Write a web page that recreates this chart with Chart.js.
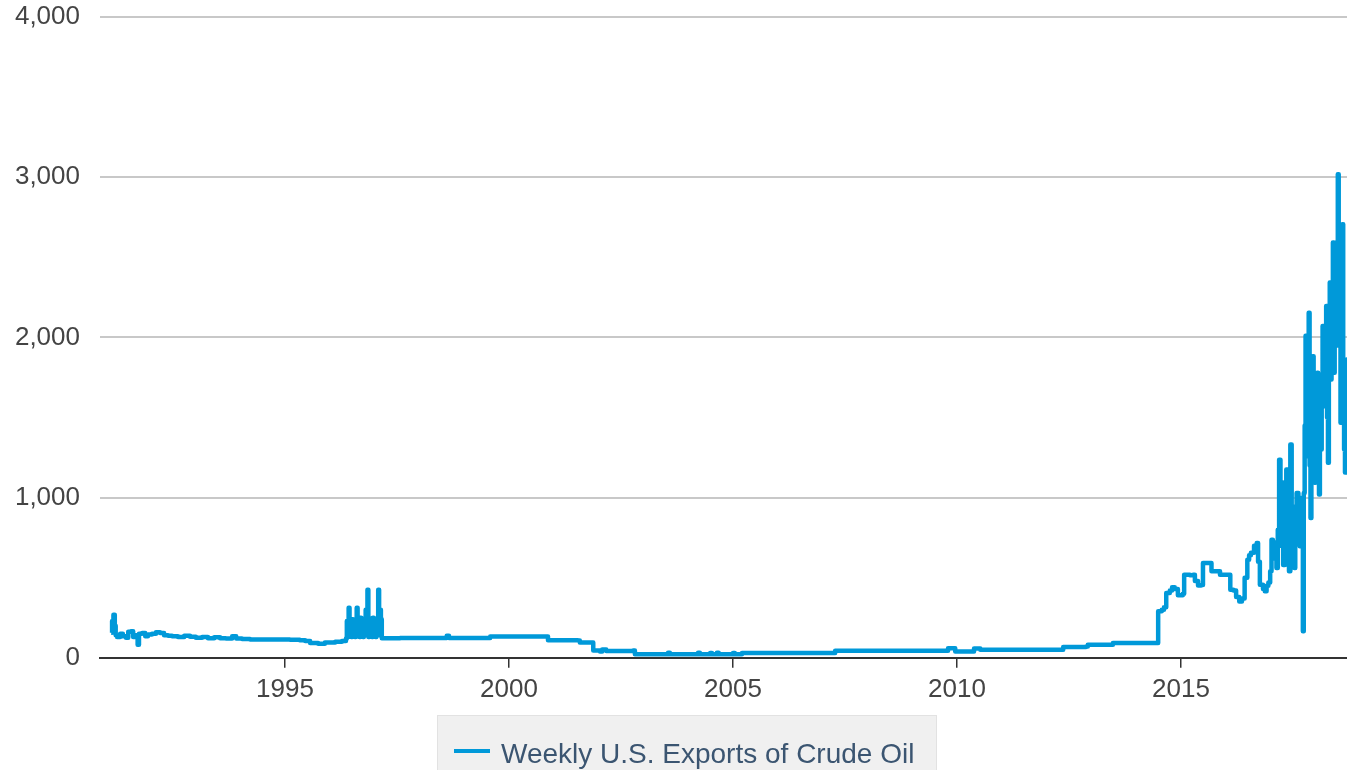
<!DOCTYPE html>
<html>
<head>
<meta charset="utf-8">
<script src="https://cdn.jsdelivr.net/npm/chart.js@4/dist/chart.umd.min.js"></script>
<style>
  html, body { margin: 0; padding: 0; background: #fff; overflow: hidden; }
  #wrap { width: 1347px; height: 800px; }
</style>
</head>
<body>
<div id="wrap"><canvas id="exportsChart" width="1347" height="800"></canvas></div>
<script>
// week position (decimal year) and weekly exports, thousand barrels per day
var weekYears = [
    1991.12, 1991.14, 1991.17, 1991.20, 1991.22, 1991.25, 1991.32, 1991.38, 1991.45, 1991.50,
    1991.56, 1991.61, 1991.65, 1991.71, 1991.74, 1991.81, 1991.88, 1991.94, 1992.03, 1992.12,
    1992.21, 1992.30, 1992.39, 1992.48, 1992.61, 1992.75, 1992.88, 1993.01, 1993.15, 1993.28,
    1993.42, 1993.55, 1993.68, 1993.82, 1993.91, 1994.04, 1994.22, 1994.44, 1994.78, 1995.11,
    1995.33, 1995.45, 1995.56, 1995.74, 1995.89, 1996.12, 1996.27,
    1996.36, 1996.38, 1996.40, 1996.42, 1996.44, 1996.46, 1996.48, 1996.50, 1996.52, 1996.54,
    1996.56, 1996.58, 1996.60, 1996.62, 1996.64, 1996.66, 1996.68, 1996.70, 1996.72, 1996.74,
    1996.76, 1996.78, 1996.80, 1996.82, 1996.84, 1996.86, 1996.88, 1996.90, 1996.92, 1996.94,
    1996.96, 1996.98, 1997.00, 1997.02, 1997.04, 1997.06, 1997.08, 1997.10, 1997.12, 1997.14,
    1997.16,
    1997.57, 1998.24, 1998.58, 1998.61, 1998.66, 1999.51, 1999.58,
    2000.80, 2000.87, 2001.54, 2001.58, 2001.83, 2001.88, 2002.03, 2002.08, 2002.17, 2002.77,
    2002.81, 2003.53, 2003.55, 2003.59, 2004.20, 2004.22, 2004.26, 2004.47, 2004.49, 2004.53,
    2004.62, 2004.64, 2004.68, 2004.98, 2005.00, 2005.04, 2005.16, 2005.20, 2007.23, 2007.28,
    2009.75, 2009.80, 2009.91, 2009.96, 2010.33, 2010.38, 2010.47, 2010.52, 2012.32, 2012.37,
    2012.88, 2012.92, 2013.44, 2013.48, 2014.46, 2014.49, 2014.57, 2014.62, 2014.67, 2014.75,
    2014.80, 2014.86, 2014.93, 2014.98, 2015.04, 2015.07, 2015.20, 2015.27, 2015.31, 2015.38,
    2015.45, 2015.49, 2015.64, 2015.68, 2015.83, 2015.87, 2016.06, 2016.10, 2016.17, 2016.23,
    2016.30, 2016.36, 2016.42, 2016.48, 2016.52, 2016.56, 2016.63, 2016.69, 2016.72, 2016.76,
    2016.83, 2016.87, 2016.91, 2016.95, 2016.99, 2017.02, 2017.05, 2017.10, 2017.13, 2017.16,
    2017.19, 2017.22, 2017.25, 2017.28, 2017.32, 2017.35, 2017.38, 2017.41, 2017.44, 2017.47,
    2017.50, 2017.53, 2017.55, 2017.58, 2017.62, 2017.65, 2017.68,
    2017.72, 2017.74, 2017.76, 2017.78, 2017.80, 2017.82, 2017.85, 2017.87, 2017.89, 2017.91,
    2017.94, 2017.96, 2017.98, 2018.00, 2018.04, 2018.06, 2018.08, 2018.10, 2018.12, 2018.14,
    2018.16, 2018.18, 2018.21, 2018.24, 2018.26, 2018.28, 2018.30, 2018.32, 2018.34, 2018.36,
    2018.39, 2018.41, 2018.43, 2018.46, 2018.48, 2018.50, 2018.52, 2018.54, 2018.56, 2018.58,
    2018.60, 2018.62, 2018.64, 2018.66, 2018.68, 2018.70, 2018.73
];
var weeklyExports = [
    156, 230, 268, 200, 140, 130, 150, 135, 125, 162,
    165, 130, 140, 81, 150, 155, 135, 145, 150, 160,
    155, 140, 138, 135, 130, 138, 132, 125, 130, 122,
    128, 122, 120, 135, 120, 118, 115, 115, 115, 113,
    110, 105, 92, 87, 95, 100, 105,
    120, 230, 130, 312, 140, 235, 130, 240, 135, 200,
    130, 240, 312, 140, 235, 130, 250, 140, 240, 130,
    245, 140, 300, 140, 425, 130, 240, 140, 245, 130,
    250, 140, 240, 130, 245, 150, 425, 140, 300, 240,
    122,
    123, 123, 123, 137, 123, 123, 133,
    133, 110, 108, 96, 96, 45, 40, 52, 42, 46,
    22, 22, 32, 22, 22, 32, 22, 22, 30, 22,
    22, 32, 22, 22, 30, 22, 22, 30, 30, 44,
    44, 60, 60, 40, 40, 58, 58, 50, 50, 68,
    70, 82, 82, 92, 92, 290, 300, 315, 404, 420,
    440, 430, 390, 390, 400, 519, 515, 519, 480, 452,
    455, 592, 592, 540, 540, 519, 519, 425, 420, 380,
    352, 370, 500, 612, 640, 655, 700, 717, 600, 456,
    430, 415, 450, 470, 540, 737, 620, 720, 560, 800,
    1237, 700, 1094, 580, 650, 1175, 750, 540, 1331, 946,
    700, 560, 900, 1029, 1000, 696, 956,
    165, 1029, 1450, 2010, 1258, 1650, 2154, 1200, 873, 1450,
    1883, 1300, 1092, 1550, 1779, 1250, 1019, 1400, 1300, 1750,
    2071, 1571, 1850, 2196, 1500, 1217, 1900, 2342, 1737, 2050,
    2592, 1779, 2100, 2592, 1950, 3019, 2400, 2071, 1467, 2100,
    2706, 1700, 1300, 1156, 1500, 1862, 1150
];
var xTickYears = [1995, 2000, 2005, 2010, 2015];
var yTickValues = [0, 1000, 2000, 3000, 4000];
var seriesName = 'Weekly U.S. Exports of Crude Oil';

var lineColor = '#0099d9';

// legend drawn as a grey box under the axis
var boxLegendPlugin = {
    id: 'boxLegend',
    afterDraw: function(chart) {
        var ctx = chart.ctx;
        ctx.save();
        ctx.fillStyle = '#f0f0f0';
        ctx.fillRect(437, 715, 500, 90);
        ctx.strokeStyle = '#e2e2e2';
        ctx.lineWidth = 1;
        ctx.strokeRect(437.5, 715.5, 499, 90);
        ctx.strokeStyle = lineColor;
        ctx.lineWidth = 4;
        ctx.beginPath();
        ctx.moveTo(454, 751);
        ctx.lineTo(490, 751);
        ctx.stroke();
        ctx.fillStyle = '#3b5571';
        ctx.font = '28px "Liberation Sans", Arial, sans-serif';
        ctx.textBaseline = 'alphabetic';
        ctx.fillText(seriesName, 501, 763);
        ctx.restore();
    }
};

var points = weekYears.map(function(yr, i) {
    return { x: yr, y: weeklyExports[i] };
});

var ctx = document.getElementById('exportsChart').getContext('2d');
var exportsChart = new Chart(ctx, {
    type: 'line',
    data: {
        datasets: [{
            label: seriesName,
            data: points,
            borderColor: lineColor,
            backgroundColor: lineColor,
            borderWidth: 4.5,
            borderJoinStyle: 'round',
            stepped: true,
            pointRadius: 0,
            fill: false
        }]
    },
    options: {
        responsive: false,
        animation: false,
        parsing: false,
        layout: { padding: { left: 15, right: 0, top: 17, bottom: 89 } },
        plugins: {
            legend: { display: false },
            tooltip: { enabled: false }
        },
        scales: {
            x: {
                type: 'linear',
                min: 1990.87,
                max: 2018.705,
                afterBuildTicks: function(axis) {
                    axis.ticks = xTickYears.map(function(v) { return { value: v }; });
                },
                grid: {
                    drawOnChartArea: false,
                    drawTicks: true,
                    tickLength: 10,
                    color: '#333',
                    lineWidth: 1.5
                },
                border: { display: true, color: '#333', width: 2 },
                ticks: {
                    color: '#444',
                    padding: 6,
                    maxRotation: 0,
                    font: { family: '"Liberation Sans", Arial, sans-serif', size: 26 },
                    callback: function(v) { return String(v); }
                }
            },
            y: {
                min: 0,
                max: 4000,
                afterBuildTicks: function(axis) {
                    axis.ticks = yTickValues.map(function(v) { return { value: v }; });
                },
                afterFit: function(axis) {
                    axis.width = 85;
                    axis.paddingTop = 0;
                    axis.paddingBottom = 0;
                },
                grid: {
                    drawTicks: false,
                    color: '#c8c8c8',
                    lineWidth: 2
                },
                border: { display: false },
                ticks: {
                    color: '#444',
                    padding: 20,
                    font: { family: '"Liberation Sans", Arial, sans-serif', size: 26 },
                    callback: function(v) { return v.toLocaleString('en-US'); }
                }
            }
        }
    },
    plugins: [boxLegendPlugin]
});
</script>
</body>
</html>
